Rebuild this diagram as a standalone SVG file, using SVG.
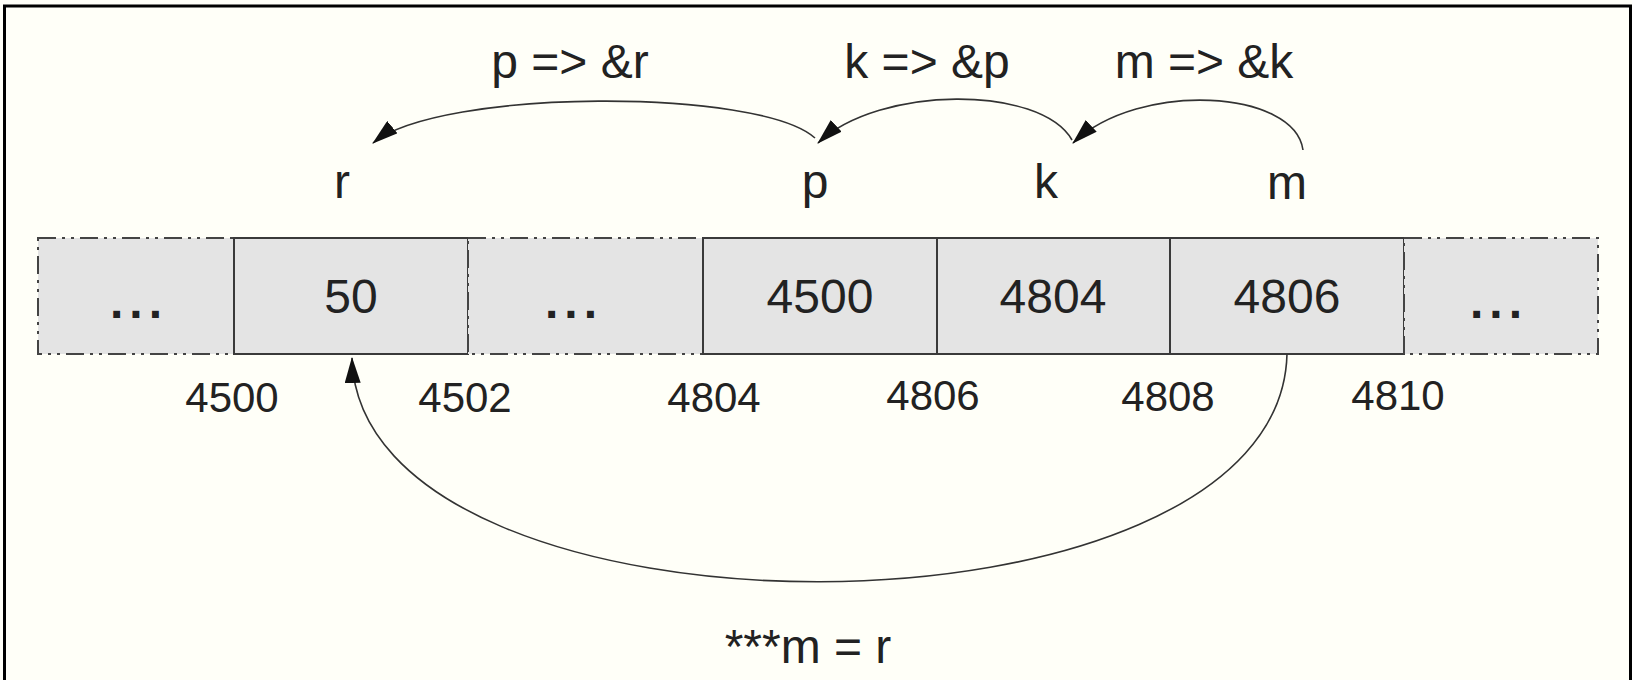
<svg xmlns="http://www.w3.org/2000/svg" width="1632" height="680" viewBox="0 0 1632 680">
<style>
  .lbl { font-family: "Liberation Sans", Arial, sans-serif; font-size: 48px; fill: #222; text-anchor: middle; }
  .addr { font-family: "Liberation Sans", Arial, sans-serif; font-size: 42px; fill: #222; text-anchor: middle; }
  .cell { fill: #e4e4e4; stroke: #3a3a3a; stroke-width: 2; }
  .dcell { fill: #e4e4e4; stroke: #444; stroke-width: 2; stroke-dasharray: 18 6 3 6 3 6; }
  .dots { font-family: "Liberation Sans", Arial, sans-serif; font-size: 48px; font-weight: bold; fill: #222; letter-spacing: 6px; }
  .conn { fill: none; stroke: #333; stroke-width: 1.6; marker-end: url(#arr); }
</style>
<defs>
  <marker id="arr" viewBox="0 0 26 16" refX="25" refY="8" markerWidth="26" markerHeight="16" markerUnits="userSpaceOnUse" orient="auto">
    <path d="M0,0 L26,8 L0,16 Z" fill="#111"/>
  </marker>
</defs>
<rect x="0" y="0" width="1632" height="680" fill="#fffff8"/>
<rect x="4.5" y="6" width="1626" height="720" fill="none" stroke="#000" stroke-width="3"/>

<g id="cell-left-dots">
  <rect class="dcell" x="38" y="238" width="196" height="116"/>
  <text class="dots" x="139" y="318" text-anchor="middle">...</text>
</g>
<g id="cell-r">
  <rect class="cell" x="234" y="238" width="234" height="116"/>
  <text class="lbl" x="351" y="313">50</text>
</g>
<g id="cell-mid-dots">
  <rect class="dcell" x="468" y="238" width="235" height="116"/>
  <text class="dots" x="574" y="318" text-anchor="middle">...</text>
</g>
<g id="cell-p">
  <rect class="cell" x="703" y="238" width="234" height="116"/>
  <text class="lbl" x="820" y="313">4500</text>
</g>
<g id="cell-k">
  <rect class="cell" x="937" y="238" width="233" height="116"/>
  <text class="lbl" x="1053" y="313">4804</text>
</g>
<g id="cell-m">
  <rect class="cell" x="1170" y="238" width="234" height="116"/>
  <text class="lbl" x="1287" y="313">4806</text>
</g>
<g id="cell-right-dots">
  <rect class="dcell" x="1404" y="238" width="194" height="116"/>
  <text class="dots" x="1499" y="318" text-anchor="middle">...</text>
</g>

<g id="names">
  <text class="lbl" x="342" y="198">r</text>
  <text class="lbl" x="815" y="198">p</text>
  <text class="lbl" x="1046" y="198">k</text>
  <text class="lbl" x="1287" y="199">m</text>
</g>

<g id="addresses">
  <text class="addr" x="232" y="412">4500</text>
  <text class="addr" x="465" y="412">4502</text>
  <text class="addr" x="714" y="412">4804</text>
  <text class="addr" x="933" y="410">4806</text>
  <text class="addr" x="1168" y="411">4808</text>
  <text class="addr" x="1398" y="410">4810</text>
</g>

<g id="connectors">
  <path class="conn" d="M815,138 C760,88 440,88 373,143"/>
  <path class="conn" d="M1072,140 C1040,85 880,85 818,143"/>
  <path class="conn" d="M1303,150 C1295,90 1140,80 1073,143"/>
  <path class="conn" d="M1287,354 C1280,657 360,657 352,358"/>
</g>

<g id="connector-labels">
  <text class="lbl" x="570" y="78">p =&gt; &amp;r</text>
  <text class="lbl" x="927" y="78">k =&gt; &amp;p</text>
  <text class="lbl" x="1204" y="78">m =&gt; &amp;k</text>
  <text class="lbl" x="808" y="663">***m = r</text>
</g>
</svg>
